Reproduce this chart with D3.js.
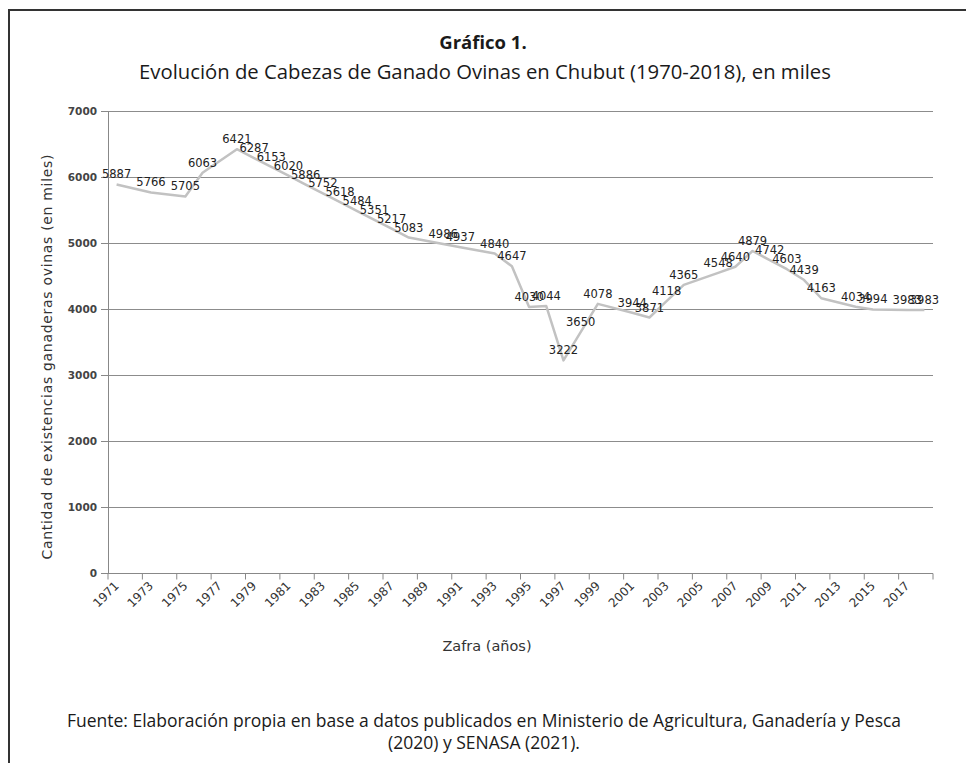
<!DOCTYPE html>
<html>
<head>
<meta charset="utf-8">
<script src="https://cdn.jsdelivr.net/npm/d3@7"></script>
<style>
  body { margin: 0; background: #fff; }
  svg { display: block; }
</style>
</head>
<body>
<svg id="chart" width="966" height="763"></svg>
<script>
// datos (miles de cabezas)
var years = [1971, 1973, 1975, 1976, 1978, 1979, 1980, 1981, 1982, 1983, 1984, 1985, 1986,
  1987, 1988, 1990, 1991, 1993, 1994, 1995, 1996, 1997, 1998, 1999, 2001, 2002, 2003,
  2004, 2006, 2007, 2008, 2009, 2010, 2011, 2012, 2014, 2015, 2017, 2018];
var heads = [5887, 5766, 5705, 6063, 6421, 6287, 6153, 6020, 5886, 5752, 5618, 5484, 5351,
  5217, 5083, 4986, 4937, 4840, 4647, 4030, 4044, 3222, 3650, 4078, 3944, 3871, 4118,
  4365, 4548, 4640, 4879, 4742, 4603, 4439, 4163, 4034, 3994, 3983, 3983];
var categories = d3.range(1971, 2019);
var tickLabels = [1971, 1973, 1975, 1977, 1979, 1981, 1983, 1985, 1987, 1989, 1991, 1993,
  1995, 1997, 1999, 2001, 2003, 2005, 2007, 2009, 2011, 2013, 2015, 2017];
var yTicks = [0, 1000, 2000, 3000, 4000, 5000, 6000, 7000];

var title = "Gráfico 1.";
var subtitle = "Evolución de Cabezas de Ganado Ovinas en Chubut (1970-2018), en miles";
var yTitle = "Cantidad de existencias ganaderas ovinas (en miles)";
var xTitle = "Zafra (años)";
var source1 = "Fuente: Elaboración propia en base a datos publicados en Ministerio de Agricultura, Ganadería y Pesca";
var source2 = "(2020) y SENASA (2021).";

function drawChart(){
  var svg = d3.select("#chart");
  var margin = {top: 111, right: 33, bottom: 189, left: 108};
  var width = +svg.attr("width"), height = +svg.attr("height");

  var data = years.map((y, i) => ({year: y, value: heads[i]}));

  var x = d3.scaleBand()
    .domain(categories)
    .range([margin.left, width - margin.right]);
  var y = d3.scaleLinear()
    .domain([0, 7000])
    .range([height - margin.bottom - 1, margin.top]);

  // marco
  svg.append("path")
    .attr("d", "M9,770V10H970")
    .attr("fill", "none")
    .attr("stroke", "#333")
    .attr("stroke-width", 2);

  // titulos
  svg.append("text")
    .attr("x", 483).attr("y", 49)
    .attr("text-anchor", "middle")
    .attr("font-family", "Open Sans")
    .attr("font-weight", "bold")
    .attr("font-size", 18.5)
    .attr("fill", "#1a1a1a")
    .text(title);
  svg.append("text")
    .attr("x", 485).attr("y", 79)
    .attr("text-anchor", "middle")
    .attr("font-family", "Open Sans")
    .attr("font-size", 20.3)
    .attr("fill", "#1a1a1a")
    .text(subtitle);

  // grilla y eje y
  var yAxis = g => g
    .attr("transform", `translate(${margin.left},0)`)
    .call(d3.axisLeft(y).tickValues(yTicks).tickFormat(d3.format("d")).tickSize(7).tickPadding(4))
    .call(g => g.select(".domain").attr("stroke", "#888"))
    .call(g => g.selectAll(".tick line").attr("stroke", "#888"))
    .call(g => g.selectAll(".tick text")
        .attr("font-family", "DejaVu Sans")
        .attr("font-weight", "bold")
        .attr("font-size", 10.5)
        .attr("fill", "#444"));

  svg.append("g")
    .selectAll("line")
    .data(yTicks.filter(d => d > 0))
    .join("line")
      .attr("x1", margin.left).attr("x2", width - margin.right)
      .attr("y1", d => y(d) + 0.5).attr("y2", d => y(d) + 0.5)
      .attr("stroke", "#8c8c8c")
      .attr("stroke-width", 1);

  svg.append("g").call(yAxis);

  // eje x (marcas cada dos categorias)
  var xg = svg.append("g")
    .attr("transform", `translate(0,${y(0) + 0.5})`);
  xg.append("line")
    .attr("x1", margin.left).attr("x2", width - margin.right)
    .attr("stroke", "#888");
  var boundaries = categories.filter((d, i) => i % 2 == 0).map(d => x(d));
  boundaries.push(x(categories[categories.length - 1]) + x.bandwidth());
  xg.selectAll("line.tk")
    .data(boundaries)
    .join("line")
      .attr("class", "tk")
      .attr("x1", d => d).attr("x2", d => d)
      .attr("y1", 0).attr("y2", 6)
      .attr("stroke", "#888");
  xg.selectAll("text")
    .data(tickLabels)
    .join("text")
      .attr("transform", d => `translate(${x(d) + x.bandwidth() / 2 + 3},${13}) rotate(-45)`)
      .attr("text-anchor", "end")
      .attr("font-family", "DejaVu Sans")
      .attr("font-size", 12)
      .attr("fill", "#333")
      .text(d => d);

  // linea
  var line = d3.line()
    .x(d => x(d.year) + x.bandwidth() / 2)
    .y(d => y(d.value));
  svg.append("path")
    .datum(data)
    .attr("d", line)
    .attr("fill", "none")
    .attr("stroke", "#c2c2c2")
    .attr("stroke-width", 2.5)
    .attr("stroke-linejoin", "round");

  // etiquetas de datos
  svg.append("g")
    .selectAll("text")
    .data(data)
    .join("text")
      .attr("x", d => x(d.year) + x.bandwidth() / 2)
      .attr("y", d => y(d.value) - 6)
      .attr("text-anchor", "middle")
      .attr("font-family", "DejaVu Sans")
      .attr("font-size", 11.5)
      .attr("fill", "#222")
      .text(d => d.value);

  // titulos de ejes
  svg.append("text")
    .attr("transform", "translate(52,357) rotate(-90)")
    .attr("text-anchor", "middle")
    .attr("font-family", "DejaVu Sans")
    .attr("font-size", 14)
    .attr("fill", "#333")
    .attr("textLength", 405)
    .attr("lengthAdjust", "spacing")
    .text(yTitle);
  svg.append("text")
    .attr("x", 487).attr("y", 651)
    .attr("text-anchor", "middle")
    .attr("font-family", "DejaVu Sans")
    .attr("font-size", 14.5)
    .attr("fill", "#333")
    .text(xTitle);

  // fuente
  svg.append("text")
    .attr("x", 484).attr("y", 727)
    .attr("text-anchor", "middle")
    .attr("font-family", "Open Sans")
    .attr("font-size", 17.5)
    .attr("fill", "#1a1a1a")
    .text(source1);
  svg.append("text")
    .attr("x", 484).attr("y", 749)
    .attr("text-anchor", "middle")
    .attr("font-family", "Open Sans")
    .attr("font-size", 17.5)
    .attr("fill", "#1a1a1a")
    .text(source2);
}

drawChart();
</script>
</body>
</html>
